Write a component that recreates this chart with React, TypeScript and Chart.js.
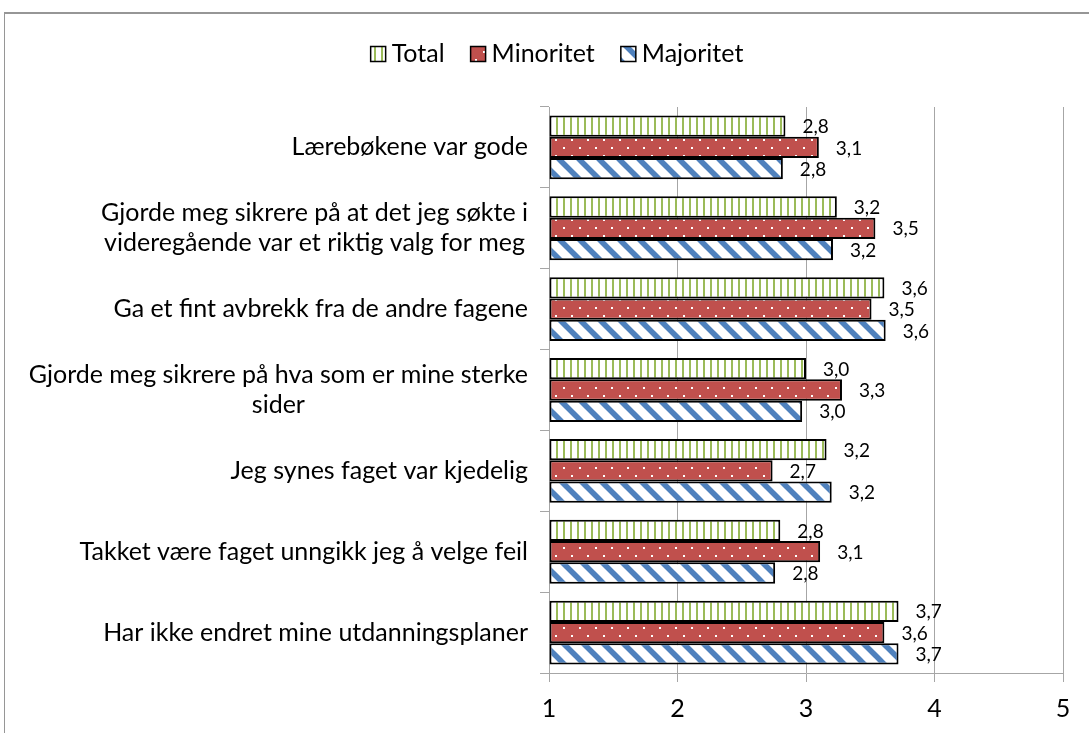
import React, { useEffect, useRef } from 'react';
import { Chart, registerables } from 'chart.js';

Chart.register(...registerables);

const categories: string[][] = [
  ['Lærebøkene var gode'],
  ['Gjorde meg sikrere på at det jeg søkte i', 'videregående var et riktig valg for meg'],
  ['Ga et fint avbrekk fra de andre fagene'],
  ['Gjorde meg sikrere på hva som er mine sterke', 'sider'],
  ['Jeg synes faget var kjedelig'],
  ['Takket være faget unngikk jeg å velge feil'],
  ['Har ikke endret mine utdanningsplaner'],
];
const seriesNames = ['Total', 'Minoritet', 'Majoritet'];
const totalValues = [2.84, 3.24, 3.61, 3.0, 3.16, 2.8, 3.72];
const minoritetValues = [3.1, 3.54, 3.51, 3.28, 2.74, 3.11, 3.61];
const majoritetValues = [2.82, 3.21, 3.62, 2.97, 3.2, 2.76, 3.72];
const xMin = 1;
const xMax = 5;
const xStep = 1;

const FONT = 'Lato';
const GREEN = '#9BBB59';
const RED = '#C0504D';
const BLUE = '#4F81BD';
const GRID = '#a6a6a6';

function makeTotalPattern(ctx: CanvasRenderingContext2D) {
  const c = document.createElement('canvas');
  c.width = 7;
  c.height = 7;
  const g = c.getContext('2d')!;
  g.fillStyle = '#ffffff';
  g.fillRect(0, 0, 7, 7);
  g.fillStyle = GREEN;
  g.fillRect(3, 0, 2, 7);
  return ctx.createPattern(c, 'repeat')!;
}

function makeDotPattern(ctx: CanvasRenderingContext2D) {
  const c = document.createElement('canvas');
  c.width = 16;
  c.height = 16;
  const g = c.getContext('2d')!;
  g.fillStyle = RED;
  g.fillRect(0, 0, 16, 16);
  g.fillStyle = '#ffffff';
  g.fillRect(3, 3, 2, 2);
  g.fillRect(11, 11, 2, 2);
  return ctx.createPattern(c, 'repeat')!;
}

function makeStripePattern(ctx: CanvasRenderingContext2D) {
  const s = 20;
  const c = document.createElement('canvas');
  c.width = s;
  c.height = s;
  const g = c.getContext('2d')!;
  g.fillStyle = '#ffffff';
  g.fillRect(0, 0, s, s);
  g.strokeStyle = BLUE;
  g.lineWidth = 5.5;
  for (const off of [-s, 0, s]) {
    g.beginPath();
    g.moveTo(off - 5, -5);
    g.lineTo(off + s + 5, s + 5);
    g.stroke();
  }
  return ctx.createPattern(c, 'repeat')!;
}

const fmt = (v: number) => v.toFixed(1).replace('.', ',');

export default function App() {
  const ref = useRef<HTMLCanvasElement | null>(null);

  useEffect(() => {
    const canvas = ref.current!;
    const ctx = canvas.getContext('2d')!;
    const fills = [makeTotalPattern(ctx), makeDotPattern(ctx), makeStripePattern(ctx)];
    const values = [totalValues, minoritetValues, majoritetValues];

    const dataLabelPlugin = {
      id: 'dataLabels',
      afterDatasetsDraw(chart: any) {
        const c = chart.ctx;
        c.save();
        c.font = `19px ${FONT}`;
        c.fillStyle = '#000';
        c.textAlign = 'left';
        c.textBaseline = 'middle';
        chart.data.datasets.forEach((ds: any, di: number) => {
          const meta = chart.getDatasetMeta(di);
          meta.data.forEach((el: any, i: number) => {
            c.fillText(fmt(ds.data[i]), el.x + 17, el.y + 1);
          });
        });
        c.restore();
      },
    };

    const categoryPlugin = {
      id: 'categoryLabels',
      afterDraw(chart: any) {
        const c = chart.ctx;
        const y = chart.scales.y;
        const right = chart.chartArea.left - 21;
        c.save();
        c.font = `25px ${FONT}`;
        c.fillStyle = '#000';
        c.textAlign = 'center';
        c.textBaseline = 'middle';
        (chart.data.labels as string[][]).forEach((lines, i) => {
          const cy = y.getPixelForValue(i);
          const maxW = Math.max(...lines.map((l) => c.measureText(l).width));
          const cx = right - maxW / 2;
          lines.forEach((l, j) => {
            c.fillText(l, cx, cy + (j - (lines.length - 1) / 2) * 30);
          });
        });
        c.restore();
      },
    };

    const legendPlugin = {
      id: 'customLegend',
      afterDraw(chart: any) {
        const c = chart.ctx;
        c.save();
        c.font = `25px ${FONT}`;
        const box = 15;
        const gapBoxText = 6;
        const gapItems = 26;
        const widths = seriesNames.map((n) => c.measureText(n).width);
        const total =
          widths.reduce((a, b) => a + b, 0) + seriesNames.length * (box + gapBoxText) + gapItems * (seriesNames.length - 1);
        let x = 557 - total / 2;
        const cy = 54;
        seriesNames.forEach((n, i) => {
          c.fillStyle = fills[i];
          c.fillRect(x, cy - box / 2, box, box);
          c.strokeStyle = '#000';
          c.lineWidth = 1.5;
          c.strokeRect(x, cy - box / 2, box, box);
          c.fillStyle = '#000';
          c.textAlign = 'left';
          c.textBaseline = 'middle';
          c.fillText(n, x + box + gapBoxText, cy);
          x += box + gapBoxText + widths[i] + gapItems;
        });
        c.restore();
      },
    };

    const chart = new Chart(ctx, {
      type: 'bar',
      data: {
        labels: categories as any,
        datasets: seriesNames.map((name, i) => ({
          label: name,
          data: values[i],
          backgroundColor: fills[i],
          borderColor: '#000',
          borderWidth: 2,
          borderSkipped: false,
          base: xMin,
          barPercentage: 1,
          categoryPercentage: 0.79,
        })) as any,
      },
      options: {
        indexAxis: 'y',
        animation: false,
        responsive: false,
        maintainAspectRatio: false,
        layout: { padding: { top: 107, left: 0, right: 26, bottom: 0 } },
        plugins: {
          legend: { display: false },
          tooltip: { enabled: false },
        },
        scales: {
          x: {
            min: xMin,
            max: xMax,
            ticks: { stepSize: xStep, color: '#000', font: { family: FONT, size: 25 }, padding: 12 },
            grid: { color: GRID, lineWidth: 1, tickLength: 9 },
            border: { color: GRID, width: 1 },
            afterFit: (s: any) => {
              s.height = 60;
            },
          },
          y: {
            ticks: { callback: () => '' },
            grid: { drawOnChartArea: false, tickLength: 9, color: GRID, offset: true },
            border: { color: GRID, width: 1 },
            afterFit: (s: any) => {
              s.width = 549;
            },
          },
        },
      } as any,
      plugins: [dataLabelPlugin, categoryPlugin, legendPlugin],
    });

    return () => chart.destroy();
  }, []);

  return (
    <div
      style={{
        position: 'absolute',
        left: 0,
        top: 0,
        width: 1089,
        height: 733,
        overflow: 'hidden',
        background: '#fff',
      }}
    >
      <div
        style={{
          position: 'absolute',
          left: 4,
          top: 12,
          width: 1200,
          height: 900,
          borderTop: '2px solid #969696',
          borderLeft: '1px solid #969696',
        }}
      />
      <canvas ref={ref} width={1089} height={733} style={{ position: 'absolute', left: 0, top: 0 }} />
    </div>
  );
}
